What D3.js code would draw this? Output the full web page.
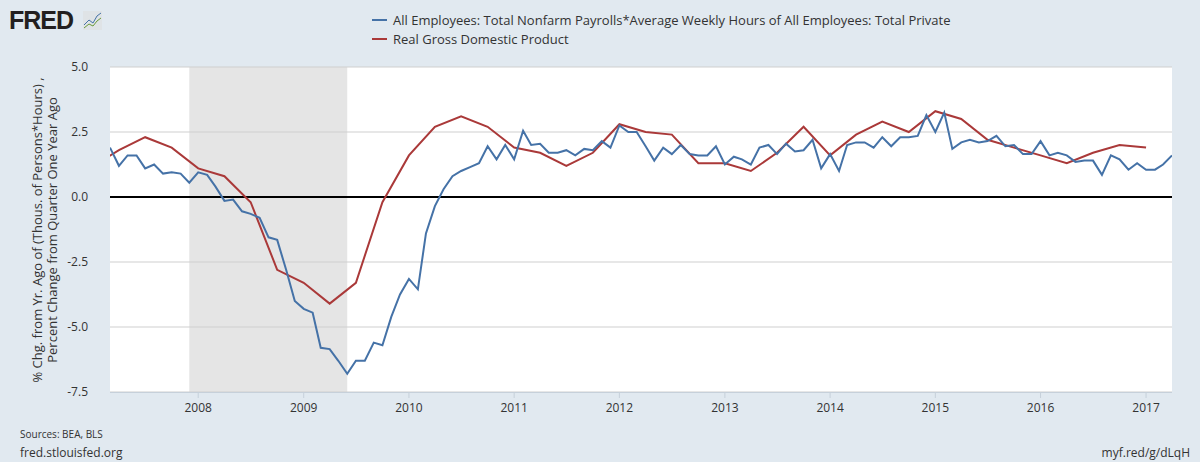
<!DOCTYPE html>
<html>
<head>
<meta charset="utf-8">
<script src="https://cdnjs.cloudflare.com/ajax/libs/d3/7.8.5/d3.min.js"></script>
<style>
  body { margin: 0; background: #e1e9f0; font-family: "Open Sans", "Noto Sans", sans-serif; }
  svg text { fill: #333; }
</style>
</head>
<body>
<svg id="chart" width="1200" height="462"></svg>
<script>
// Blue: monthly, Mar 2007 .. Apr 2017
const blueStart = [2007, 2]; // month index 0-based
const blueValues = [1.9, 1.2, 1.6, 1.6, 1.1, 1.25, 0.9, 0.95, 0.9, 0.55,
  0.95, 0.85, 0.4, -0.15, -0.1, -0.55, -0.65, -0.8, -1.55, -1.65, -2.8, -4.0,
  -4.3, -4.45, -5.8, -5.85, -6.3, -6.8, -6.3, -6.3, -5.6, -5.7, -4.6, -3.75,
  -3.15, -3.55, -1.4, -0.35, 0.3, 0.8, 1.0, 1.15, 1.3, 1.95, 1.45, 2.0,
  1.45, 2.55, 2.0, 2.05, 1.7, 1.7, 1.8, 1.6, 1.85, 1.8, 2.15, 1.9,
  2.75, 2.5, 2.5, 1.95, 1.4, 1.9, 1.65, 2.0, 1.65, 1.6, 1.6, 1.95,
  1.25, 1.55, 1.45, 1.25, 1.9, 2.0, 1.65, 2.05, 1.75, 1.8, 2.2, 1.1,
  1.65, 1.0, 2.0, 2.1, 2.1, 1.9, 2.3, 1.95, 2.3, 2.3, 2.35, 3.15,
  2.5, 3.25, 1.85, 2.1, 2.2, 2.1, 2.15, 2.35, 1.95, 2.0, 1.65, 1.65,
  2.15, 1.6, 1.7, 1.6, 1.35, 1.4, 1.4, 0.85, 1.6, 1.45, 1.05, 1.3,
  1.05, 1.05, 1.25, 1.6];
// Red: quarterly, Q1 2007 .. Q1 2017
const redValues = [1.2, 1.8, 2.3, 1.9, 1.1, 0.8, -0.2, -2.8, -3.3, -4.1, -3.3, -0.2,
  1.6, 2.7, 3.1, 2.7, 1.9, 1.7, 1.2, 1.7, 2.8, 2.5, 2.4, 1.3,
  1.3, 1.0, 1.7, 2.7, 1.6, 2.4, 2.9, 2.5, 3.3, 3.0, 2.2, 1.9,
  1.6, 1.3, 1.7, 2.0, 1.9];
const yTicks = [5.0, 2.5, 0.0, -2.5, -5.0, -7.5];
const xTickYears = [2008, 2009, 2010, 2011, 2012, 2013, 2014, 2015, 2016, 2017];
const recession = [new Date(2007, 11, 1), new Date(2009, 5, 1)];

const blue = blueValues.map((v, i) => ({ d: new Date(blueStart[0], blueStart[1] + i, 1), v }));
const red = redValues.map((v, i) => ({ d: new Date(2007, i * 3, 1), v }));

const svg = d3.select("#chart");
const pL = 110, pR = 1172, pT = 67, pB = 392;
const x = d3.scaleTime().domain([new Date(2007, 2, 1), new Date(2017, 3, 1)]).range([pL, pR]);
const y = d3.scaleLinear().domain([-7.5, 5]).range([pB, pT]);

svg.append("rect").attr("x", pL).attr("y", pT).attr("width", pR - pL).attr("height", pB - pT).attr("fill", "#fff");
svg.append("defs").append("clipPath").attr("id", "clip")
  .append("rect").attr("x", pL).attr("y", pT).attr("width", pR - pL).attr("height", pB - pT);

svg.append("rect").attr("x", x(recession[0])).attr("y", pT)
  .attr("width", x(recession[1]) - x(recession[0])).attr("height", pB - pT).attr("fill", "#e5e5e5");

// grid
svg.append("g").selectAll("line").data(yTicks).join("line")
  .attr("x1", pL).attr("x2", pR).attr("y1", d => y(d)).attr("y2", d => y(d))
  .attr("stroke", "#cfcfcf").attr("stroke-width", 1);
svg.append("g").selectAll("text").data(yTicks).join("text")
  .attr("x", 88).attr("y", d => y(d) + 4).attr("text-anchor", "end")
  .attr("font-size", 12).text(d => d.toFixed(1));

// x ticks
svg.append("g").selectAll("line").data(xTickYears).join("line")
  .attr("x1", d => x(new Date(d, 0, 1))).attr("x2", d => x(new Date(d, 0, 1)))
  .attr("y1", pB).attr("y2", pB + 6).attr("stroke", "#c6d0da");
svg.append("line").attr("x1", pL).attr("x2", pR).attr("y1", pB + 0.5).attr("y2", pB + 0.5).attr("stroke", "#c6d0da");
svg.append("g").selectAll("text").data(xTickYears).join("text")
  .attr("x", d => x(new Date(d, 0, 1))).attr("y", 412).attr("text-anchor", "middle")
  .attr("font-size", 12).text(d => d);

svg.append("line").attr("x1", pL).attr("x2", pR).attr("y1", y(0)).attr("y2", y(0))
  .attr("stroke", "#000").attr("stroke-width", 2);

const line = d3.line().x(d => x(d.d)).y(d => y(d.v));
const g = svg.append("g").attr("clip-path", "url(#clip)");
g.append("path").datum(red).attr("d", line).attr("fill", "none").attr("stroke", "#aa3939").attr("stroke-width", 2);
g.append("path").datum(blue).attr("d", line).attr("fill", "none").attr("stroke", "#4572a7").attr("stroke-width", 2);

// y title
const yt = svg.append("text").attr("transform", "translate(42,230) rotate(-90)").attr("text-anchor", "middle").attr("font-size", 13);
yt.append("tspan").attr("x", 0).attr("dy", 0).text("% Chg. from Yr. Ago of (Thous. of Persons*Hours) ,");
yt.append("tspan").attr("x", 0).attr("dy", 15).text("Percent Change from Quarter One Year Ago");

// legend
const legend = [["All Employees: Total Nonfarm Payrolls*Average Weekly Hours of All Employees: Total Private", "#4572a7"],
  ["Real Gross Domestic Product", "#aa3939"]];
legend.forEach(([t, c], i) => {
  svg.append("line").attr("x1", 372).attr("x2", 387).attr("y1", 20 + i * 19).attr("y2", 20 + i * 19).attr("stroke", c).attr("stroke-width", 2);
  svg.append("text").attr("x", 393).attr("y", 25 + i * 19).attr("font-size", 13).text(t);
});

// logo
svg.append("text").attr("x", 9).attr("y", 29).attr("font-size", 25).attr("font-weight", "bold")
  .attr("font-family", "Liberation Sans, Arial, sans-serif").style("fill", "#231f20").attr("letter-spacing", -1).text("FRED");
svg.append("rect").attr("x", 83).attr("y", 11).attr("width", 19).attr("height", 19).attr("fill", "#dfe3e6");
svg.append("path").attr("d", "M84,25 L89,20 L93,23 L97,16 L101,13").attr("fill", "none").attr("stroke", "#4572a7").attr("stroke-width", 1);
svg.append("path").attr("d", "M84,28 L89,24 L93,26 L97,21 L101,18").attr("fill", "none").attr("stroke", "#6a9a3a").attr("stroke-width", 1);

svg.append("text").attr("x", 20).attr("y", 438).attr("font-size", 10).text("Sources: BEA, BLS");
svg.append("text").attr("x", 20).attr("y", 457).attr("font-size", 12).text("fred.stlouisfed.org");
svg.append("text").attr("x", 1190).attr("y", 457).attr("text-anchor", "end").attr("font-size", 12).text("myf.red/g/dLqH");
</script>
</body>
</html>
